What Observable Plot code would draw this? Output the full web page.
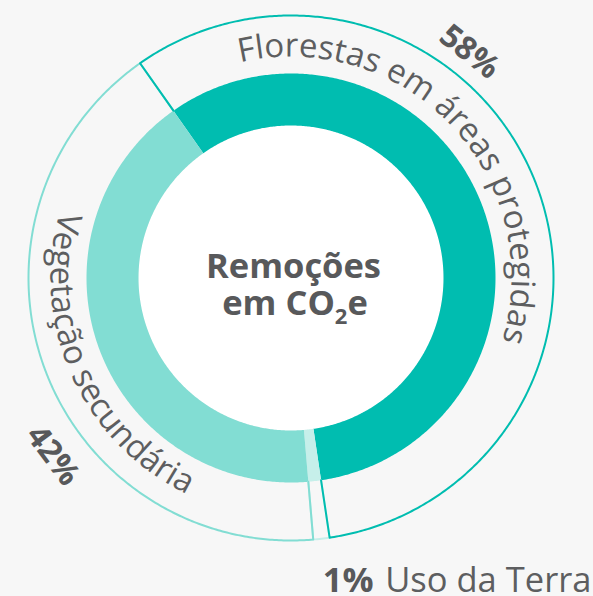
<!DOCTYPE html>
<html><head><meta charset="utf-8">
<script src="https://cdn.jsdelivr.net/npm/d3@7"></script>
<script src="https://cdn.jsdelivr.net/npm/@observablehq/plot@0.6"></script>
<style>
html,body{margin:0;padding:0;background:#f7f7f7;}
#chart svg{display:block;}
</style></head><body><div id="chart"></div>
<script>
// ---- data ----
const categories = ["Florestas em áreas protegidas", "Uso da Terra", "Vegetação secundária"];
const shares = [57.4, 1.0, 41.6];
const shareLabels = ["58%", "1%", "42%"];
const colors = ["#00bdb0", "#c6efea", "#82ddd3"];
const centerLines = ["Remoções", "em CO", "2", "e"];

// ---- layout (radius units: outer ring = 1; angles in degrees clockwise from 12 o'clock) ----
const W = 593, H = 596;
const cxPx = 290.5, cyPx = 277.5, Rpx = 262.5;
const startAngle = -35.1;
const rHole = 152.5 / Rpx, rDonut = 204.5 / Rpx, rRing = 1;
const textGrey = "#58595b";
const font = "Open Sans";

const total = d3.sum(shares);
let acc = startAngle;
const segs = categories.map((c, i) => {
  const a0 = acc, a1 = acc + shares[i] / total * 360;
  acc = a1;
  return {c, a0, a1, color: colors[i], label: shareLabels[i]};
});
const rad = Math.PI / 180;
const pol = (r, a) => ({x: r * Math.sin(a * rad), y: r * Math.cos(a * rad)});
function arcPts(r, a0, a1) {
  const n = Math.max(2, Math.ceil(Math.abs(a1 - a0) / 0.5));
  return d3.range(n + 1).map(k => pol(r, a0 + (a1 - a0) * k / n));
}

const holePts = arcPts(rHole, 0, 360);
const slicePts = segs.map(s => [...arcPts(rDonut, s.a0, s.a1), ...arcPts(rHole, s.a1, s.a0)]);
const outlinePts = segs.map(s => [pol(rDonut, s.a0), ...arcPts(rRing, s.a0, s.a1), pol(rDonut, s.a1)]);

// curved category labels
const curved = [
  {text: categories[0], r: 221 / Rpx, a0: -13.2, a1: 160},
  {text: categories[2], r: 240 / Rpx, a0: 286, a1: 180}
];
// percentage labels placed along the ring
const pctPos = [
  {text: segs[0].label, r: 288 / Rpx, a: 38.3, rotate: 38.3},
  {text: segs[2].label, r: 297 / Rpx, a: 233.3, rotate: 53.3}
].map(d => ({...d, ...pol(d.r, d.a)}));

function curvedText(index, scales) {
  const sx = scales.x, sy = scales.y;
  const cx = sx(0), cy = sy(0), k = sx(1) - sx(0);
  const g = d3.create("svg:g");
  curved.forEach((t, i) => {
    const r = t.r * k;
    const p0 = [cx + r * Math.sin(t.a0 * rad), cy - r * Math.cos(t.a0 * rad)];
    const p1 = [cx + r * Math.sin(t.a1 * rad), cy - r * Math.cos(t.a1 * rad)];
    const large = Math.abs(t.a1 - t.a0) > 180 ? 1 : 0;
    const sweep = t.a1 > t.a0 ? 1 : 0;
    const id = "curve" + i;
    g.append("path").attr("id", id).attr("fill", "none")
      .attr("d", `M${p0[0]},${p0[1]}A${r},${r} 0 ${large} ${sweep} ${p1[0]},${p1[1]}`);
    g.append("text")
      .attr("font-family", font).attr("font-size", 33).attr("font-weight", 400)
      .attr("fill", "#5d5e60").attr("text-anchor", "start")
      .append("textPath").attr("href", "#" + id).attr("startOffset", 0).text(t.text);
  });
  // center title with subscript
  const t = g.append("text").attr("font-family", font).attr("font-size", 34.5)
    .attr("font-weight", 700).attr("fill", textGrey).attr("text-anchor", "middle")
    .attr("x", sx(4.5 / Rpx)).attr("y", sy(-37.5 / Rpx));
  t.append("tspan").text(centerLines[1]);
  t.append("tspan").attr("font-size", 22).attr("dy", 9).text(centerLines[2]);
  t.append("tspan").attr("dy", -9).text(centerLines[3]);
  return g.node();
}

const marks = [
  Plot.line(holePts, {x: "x", y: "y", fill: "#ffffff", stroke: "none"}),
  ...slicePts.map((pts, i) => Plot.line(pts, {x: "x", y: "y", fill: segs[i].color, stroke: "none"})),
  ...[1, 2, 0].map(i => Plot.line(outlinePts[i], {x: "x", y: "y", stroke: segs[i].color, strokeWidth: 2, fill: "none"})),
  curvedText,
  Plot.text([centerLines[0]], {x: 2.5 / Rpx, y: 0.3 / Rpx, text: d => d, lineAnchor: "bottom",
    fontSize: 34.5, fontWeight: 700, fill: textGrey, fontFamily: font}),
  Plot.text(pctPos, {x: "x", y: "y", text: "text", rotate: "rotate", fontSize: 32, fontWeight: 700,
    fill: textGrey, fontFamily: font}),
  Plot.text([segs[1].label], {x: 82.5 / Rpx, y: -313.5 / Rpx, text: d => d, textAnchor: "end", lineAnchor: "bottom",
    fontSize: 34.5, fontWeight: 700, fill: textGrey, fontFamily: font}),
  Plot.text([segs[1].c], {x: 300.5 / Rpx, y: -313.5 / Rpx, text: d => d, textAnchor: "end", lineAnchor: "bottom",
    fontSize: 34.5, fontWeight: 400, fill: "#5d5e60", fontFamily: font})
];

const chart = Plot.plot({
  width: W, height: H, margin: 0,
  x: {domain: [-cxPx / Rpx, (W - cxPx) / Rpx], axis: null},
  y: {domain: [-(H - cyPx) / Rpx, cyPx / Rpx], axis: null},
  style: {background: "#f7f7f7", fontFamily: font, overflow: "visible"},
  marks
});
document.getElementById("chart").append(chart);
</script>
</body></html>
